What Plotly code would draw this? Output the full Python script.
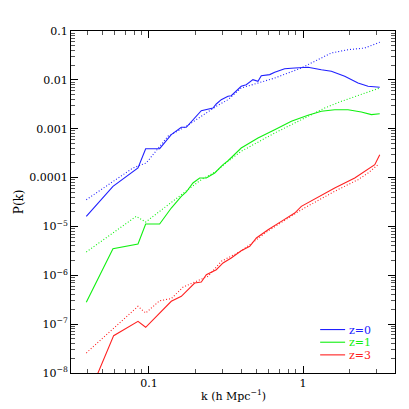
import plotly.graph_objects as go

# wavenumbers (h/Mpc) and power spectra
k_z0 = [0.0392, 0.0584, 0.0849, 0.0952, 0.1173, 0.1396, 0.1622, 0.1747, 0.2186, 0.2416, 0.2604,
        0.2735, 0.2946, 0.326, 0.342, 0.397, 0.428, 0.473, 0.510, 0.536, 0.608, 0.655, 0.760,
        0.883, 1.077, 1.315, 1.527, 1.865, 2.275, 2.642, 3.148]
p_z0 = [1.61e-5, 6.62e-5, 1.57e-4, 3.90e-4, 3.90e-4, 7.55e-4, 1.07e-3, 1.07e-3, 2.34e-3, 2.49e-3, 2.65e-3,
        3.21e-3, 3.93e-3, 4.61e-3, 4.74e-3, 7.38e-3, 7.96e-3, 1.01e-2, 9.35e-3, 1.22e-2, 1.28e-2, 1.43e-2, 1.69e-2,
        1.75e-2, 1.81e-2, 1.61e-2, 1.50e-2, 1.18e-2, 8.63e-3, 7.38e-3, 7.05e-3]

k_lin0 = [0.0392, 0.0787, 0.096, 0.1144, 0.1328, 0.1747, 0.2186, 0.2735, 0.326, 0.397, 0.655,
          0.975, 1.191, 1.527, 1.959, 2.516, 3.148]
p_lin0 = [3.52e-5, 1.57e-4, 1.99e-4, 4.03e-4, 7.0e-4, 1.12e-3, 1.80e-3, 2.88e-3, 3.93e-3, 6.81e-3, 1.09e-2,
          1.75e-2, 2.40e-2, 3.55e-2, 4.14e-2, 4.49e-2, 5.87e-2]

k_z1 = [0.0392, 0.0584, 0.0849, 0.0952, 0.1173, 0.1396, 0.1622, 0.1747, 0.193, 0.2134, 0.2357,
        0.2672, 0.3027, 0.326, 0.397, 0.510, 0.655, 0.840, 1.077, 1.315, 1.606, 1.959, 2.391,
        2.778, 3.148]
p_z1 = [2.80e-7, 3.50e-6, 4.37e-6, 1.12e-5, 1.12e-5, 2.38e-5, 4.14e-5, 5.07e-5, 7.74e-5, 9.8e-5, 9.8e-5,
        1.24e-4, 1.84e-4, 2.21e-4, 4.03e-4, 6.46e-4, 9.55e-4, 1.42e-3, 1.88e-3, 2.27e-3, 2.45e-3, 2.45e-3, 2.20e-3,
        1.94e-3, 2.03e-3]

k_lin1 = [0.0392, 0.0827, 0.0952, 0.1328, 0.179, 0.2186, 0.2735, 0.326, 0.397, 0.655, 1.077,
          1.383, 1.774, 2.275, 3.148]
p_lin1 = [3.0e-6, 1.61e-5, 1.23e-5, 2.79e-5, 5.65e-5, 9.06e-5, 1.35e-4, 2.15e-4, 3.45e-4, 8.17e-4, 1.80e-3,
          2.65e-3, 3.64e-3, 4.74e-3, 6.81e-3]

k_z3 = [0.0392, 0.059, 0.0849, 0.0952, 0.1396, 0.1622, 0.198, 0.2186, 0.2357, 0.2735, 0.3027,
        0.342, 0.397, 0.451, 0.498, 0.593, 0.723, 0.883, 0.975, 1.606, 2.166, 2.642, 2.922, 3.148]
p_z3 = [2.7e-9, 5.81e-8, 1.14e-7, 8.63e-8, 2.94e-7, 3.72e-7, 6.95e-7, 7.29e-7, 1.03e-6, 1.30e-6, 1.79e-6,
        2.26e-6, 3.18e-6, 3.92e-6, 5.79e-6, 8.57e-6, 1.27e-5, 1.88e-5, 2.58e-5, 6.12e-5, 9.8e-5, 1.45e-4, 1.84e-4,
        2.94e-4]

k_lin3 = [0.0392, 0.0849, 0.0952, 0.1173, 0.1396, 0.166, 0.198, 0.2416, 0.2946, 0.397, 0.593,
          0.975, 1.606, 2.275, 2.642, 3.069]
p_lin3 = [2.57e-8, 2.32e-7, 1.69e-7, 3.02e-7, 3.32e-7, 5.68e-7, 7.29e-7, 9.53e-7, 1.93e-6, 3.14e-6, 8.07e-6,
          2.2e-5, 5.24e-5, 9.06e-5, 1.24e-4, 1.84e-4]

labels = ["z=0", "z=1", "z=3"]
colors = ["#2020ff", "#10f010", "#ff2020"]

y_tickvals = [1e-8, 1e-7, 1e-6, 1e-5, 1e-4, 1e-3, 1e-2, 1e-1]
y_ticktext = ["10<sup>−8</sup>", "10<sup>−7</sup>", "10<sup>−6</sup>", "10<sup>−5</sup>",
              "0.0001", "0.001", "0.01", "0.1"]
x_tickvals = [0.1, 1]
x_ticktext = ["0.1", "1"]

FONT = "DejaVu Serif"

fig = go.Figure()

series = [(k_z0, p_z0, k_lin0, p_lin0), (k_z1, p_z1, k_lin1, p_lin1), (k_z3, p_z3, k_lin3, p_lin3)]
for (ks, ps, kl, pl), name, c in zip(series, labels, colors):
    fig.add_trace(go.Scatter(x=ks, y=ps, mode="lines", name=name,
                             line=dict(color=c, width=1.1), showlegend=False))
    fig.add_trace(go.Scatter(x=kl, y=pl, mode="lines", name=name + " linear",
                             line=dict(color=c, width=1.1, dash="1px,2px"), showlegend=False))

# hand-made legend in the lower right corner
leg_y = [0.127, 0.090, 0.053]
for name, c, yy in zip(labels, colors, leg_y):
    fig.add_shape(type="line", xref="paper", yref="paper", x0=0.769, x1=0.846, y0=yy, y1=yy,
                  line=dict(color=c, width=1.1))
    fig.add_annotation(xref="paper", yref="paper", x=0.853, y=yy, text=name, showarrow=False,
                       xanchor="left", yanchor="middle", height=12,
                       font=dict(family=FONT, size=11, color=c))

fig.add_annotation(xref="paper", yref="paper", x=0.5, y=-0.067, text="k (h Mpc<sup>−1</sup>)",
                   showarrow=False, xanchor="center", yanchor="middle",
                   font=dict(family=FONT, size=11, color="black"))
fig.add_annotation(xref="paper", yref="paper", x=-0.160, y=0.5, text="P(k)", textangle=-90,
                   showarrow=False, xanchor="center", yanchor="middle",
                   font=dict(family=FONT, size=12, color="black"))

axis_common = dict(showline=True, linecolor="black", linewidth=1, mirror="ticks",
                   ticks="inside", ticklen=7, tickcolor="black", tickwidth=1,
                   showgrid=False, zeroline=False,
                   minor=dict(ticks="inside", ticklen=4, tickcolor="#555555", dtick="D1", showgrid=False),
                   tickfont=dict(family=FONT, size=11, color="black"))

fig.update_xaxes(type="log", range=[-1.506, 0.597], tickvals=x_tickvals, ticktext=x_ticktext, **axis_common)
fig.update_yaxes(type="log", range=[-8, -1], tickvals=y_tickvals, ticktext=y_ticktext, **axis_common)

fig.update_layout(width=409, height=409,
                  margin=dict(l=63, r=22, t=23, b=44),
                  plot_bgcolor="white", paper_bgcolor="white",
                  showlegend=False)

fig.write_html("out.html")
